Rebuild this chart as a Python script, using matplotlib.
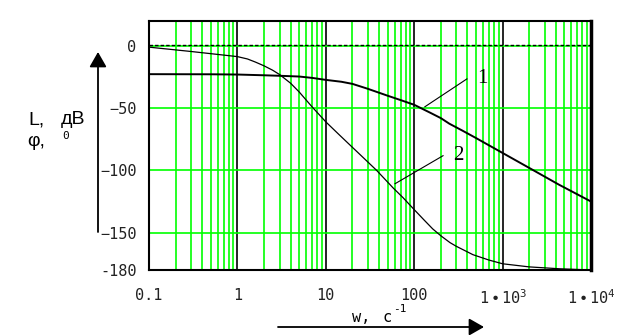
import matplotlib
matplotlib.use("Agg")
import matplotlib.pyplot as plt
from matplotlib.ticker import LogLocator, FixedLocator, NullFormatter

# ---- data ----
w1 = [0.1, 0.5, 1, 2, 3, 5, 7, 10, 15, 20, 30, 50, 70, 100, 150, 200, 250, 350,
      500, 1000, 2000, 4350, 10000]
L1 = [-22.7, -22.8, -23.0, -23.6, -24.0, -24.6, -25.7, -27.3, -28.8, -30.5, -34.5,
      -40.0, -43.5, -47.3, -53.5, -58.0, -62.5, -68.0, -74.0, -86.0, -98.0, -111.5,
      -125.0]

w2 = [0.1, 0.3, 1, 1.3, 1.6, 2, 2.5, 3, 4, 5, 7, 10, 14, 18.7, 25, 37.6, 57.6, 75,
      100, 130, 162, 200, 254, 300, 462, 700, 1000, 2000, 4350, 10000]
L2 = [-1.0, -4.5, -8.6, -10.5, -13.0, -16.0, -19.5, -23.0, -30.0, -37.0, -49.0,
      -61.0, -71.0, -79.5, -88.0, -100.0, -114.0, -122.0, -131.5, -140.0, -147.0,
      -152.5, -158.0, -161.0, -167.7, -172.0, -175.0, -177.5, -179.0, -180.0]

xticks = [0.1, 1, 10, 100, 1000, 10000]
xticklabels = ["0.1", "1", "10", "100", r"$1\bullet10^{3}$", r"$1\bullet10^{4}$"]
yticks = [0, -50, -100, -150, -180]
yticklabels = ["0", "\u221250", "\u2212100", "\u2212150", "-180"]

plt.rcParams["mathtext.fontset"] = "custom"
plt.rcParams["mathtext.rm"] = "DejaVu Sans Mono"
plt.rcParams["mathtext.it"] = "DejaVu Sans Mono"
plt.rcParams["mathtext.bf"] = "DejaVu Sans Mono"

GREEN = "#00ff00"
MONO = "DejaVu Sans Mono"

fig = plt.figure(figsize=(6.33, 3.35), dpi=100)
ax = fig.add_axes([149 / 633, 1 - 270 / 335, (591 - 149) / 633, (270 - 21) / 335])

ax.set_xscale("log")
ax.set_xlim(0.1, 1e4)
ax.set_ylim(-180, 20)

ax.xaxis.set_major_locator(FixedLocator(xticks))
ax.xaxis.set_minor_locator(LogLocator(base=10, subs=range(2, 10), numticks=20))
ax.xaxis.set_minor_formatter(NullFormatter())
ax.set_xticks(xticks)
ax.set_xticklabels(xticklabels, fontfamily=MONO, fontsize=11, color="#222222")
ax.set_yticks(yticks)
ax.set_yticklabels(yticklabels, fontfamily=MONO, fontsize=11, color="#222222")
ax.tick_params(axis="both", which="both", length=0)
ax.tick_params(axis="x", pad=13)
ax.tick_params(axis="y", pad=9)

ax.xaxis.grid(True, which="minor", color=GREEN, lw=1.2)
ax.xaxis.grid(True, which="major", color="black", lw=1.2)
ax.yaxis.grid(True, which="major", color=GREEN, lw=1.2)
ax.set_axisbelow(True)

for s in ["left", "top", "bottom"]:
    ax.spines[s].set_linewidth(1.5)
ax.spines["right"].set_linewidth(2.5)

# dotted line at zero
ax.axhline(0.9, color="black", lw=1.0, ls=(0, (2.5, 1.5)), zorder=3)

# curves
ax.plot(w1, L1, color="black", lw=1.4, zorder=4)
ax.plot(w2, L2, color="black", lw=0.9, zorder=4)

# leader lines and labels
ax.plot([132, 395], [-48.9, -26.5], color="black", lw=0.8, zorder=4)
ax.text(585, -26.5, "1", fontfamily="Liberation Serif", fontsize=15,
        ha="center", va="center")
ax.plot([60.7, 212], [-110.7, -88.2], color="black", lw=0.8, zorder=4)
ax.text(313, -87.8, "2", fontfamily="Liberation Serif", fontsize=15,
        ha="center", va="center")

H = 335.0
# y-axis label
fig.text(28 / 633, 1 - 120 / H, "L,", fontfamily="Liberation Sans", fontsize=14,
         ha="left", va="center")
fig.text(61 / 633, 1 - 120 / H, "дB", fontfamily="Liberation Sans", fontsize=14,
         ha="left", va="center")
fig.text(27 / 633, 1 - 142 / H, "φ,", fontfamily="Liberation Sans", fontsize=14,
         ha="left", va="center")
fig.text(62 / 633, 1 - 136 / H, "0", fontfamily=MONO, fontsize=8,
         ha="left", va="center")

# x-axis label
fig.text(352 / 633, 1 - 318 / H, "w,", fontfamily=MONO, fontsize=11,
         ha="left", va="center")
fig.text(382 / 633, 1 - 318 / H, "c", fontfamily=MONO, fontsize=11,
         ha="left", va="center")
fig.text(393 / 633, 1 - 309 / H, "-1", fontfamily=MONO, fontsize=8,
         ha="left", va="center")

# arrows
fig.add_artist(matplotlib.patches.FancyArrowPatch(
    (98, H - 232), (98, H - 52), transform=None,
    arrowstyle="-|>,head_length=0.7,head_width=0.4", mutation_scale=13,
    color="black", lw=1.3, shrinkA=0, shrinkB=0))
fig.add_artist(matplotlib.patches.FancyArrowPatch(
    (278, H - 327), (484, H - 327), transform=None,
    arrowstyle="-|>,head_length=0.7,head_width=0.4", mutation_scale=13,
    color="black", lw=1.3, shrinkA=0, shrinkB=0))

fig.savefig("out.png", dpi=100)
